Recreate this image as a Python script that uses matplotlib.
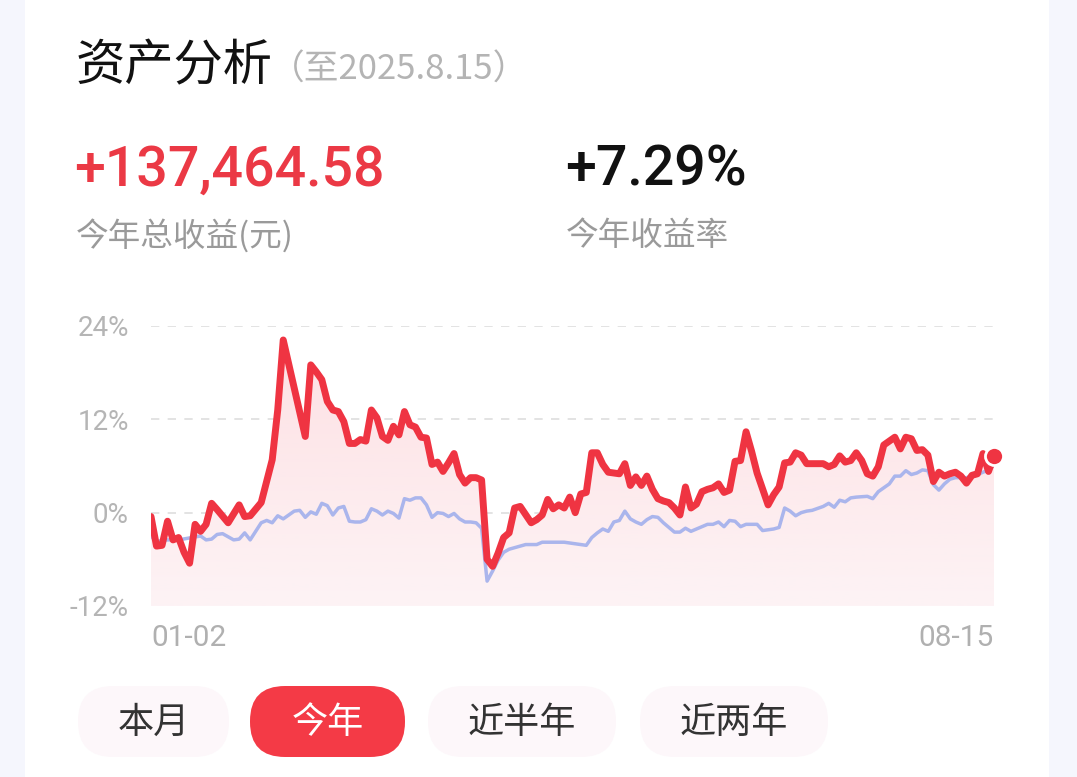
import numpy as np
import matplotlib.pyplot as plt
from matplotlib.patches import FancyBboxPatch
from matplotlib.colors import LinearSegmentedColormap

plt.rcParams['font.family'] = ['Noto Sans CJK SC', 'DejaVu Sans']

# ---- data (day index since 01-02, return in %) ----
red_days = [0, 1, 2, 3, 4, 5, 6, 7, 8, 9, 10, 11, 12, 14, 16, 17, 18, 20, 22, 23, 24,
            28, 29, 30, 31, 32, 33, 34, 35, 36, 37, 38, 39, 40, 41, 42, 43, 44, 45, 46,
            47, 48, 49, 50, 51, 52, 53, 54, 55, 56, 57, 58, 59, 60, 61, 62, 63, 64, 65,
            66, 67, 69, 70, 71, 72, 73, 74, 75, 76, 77, 78, 79, 80, 81, 82, 83, 85, 86,
            87, 88, 89, 90, 91, 92, 93, 94, 95, 96, 97, 98, 99, 100, 101, 102, 103, 104,
            105, 106, 107, 108, 109, 110, 112, 113, 114, 115, 116, 117, 118, 119, 120,
            122, 123, 124, 125, 126, 127, 128, 129, 130, 131, 132, 133, 135, 136, 137,
            138, 139, 140, 141, 142, 143, 144, 145, 146, 147, 148, 149, 150, 151, 152, 153]
red_vals = [-0.5, -4.3, -4.2, -1.1, -3.5, -3.2, -5.1, -6.5, -1.5, -2.4, -1.5, 1.2, 0.4, -1.3,
            1.0, -0.5, -0.4, 1.3, 6.8, 13.2, 22.2,
            9.8, 19.0, 18.1, 17.1, 14.3, 13.2, 13.0, 11.7, 8.9, 8.9, 9.4, 9.2, 13.2, 12.2,
            9.8, 9.3, 11.1, 10.0, 13.0, 11.3, 11.0, 9.7, 9.6, 6.2, 6.5, 5.3, 6.4, 7.6, 4.9,
            3.8, 4.5, 4.5, 4.2, -6.0, -6.9, -5.2, -3.2, -2.6, 0.6, 0.8, -1.3, -0.9, -0.3,
            1.7, 0.5, 1.0, 0.6, 2.0, 0.0, 2.4, 2.6, 7.7, 7.7, 6.2, 5.2, 5.0, 6.3, 3.5, 4.6,
            3.5, 4.7, 3.0, 1.8, 1.5, 1.3, 0.6, -0.3, 3.3, 0.6, 1.1, 2.7, 3.0, 3.2, 3.7, 2.6,
            2.9, 6.6, 6.7, 10.4, 7.9, 5.1, 1.0, 2.3, 3.3, 6.4, 6.5, 7.7, 7.4, 6.3, 6.3,
            6.3, 5.9, 6.2, 7.3, 6.5, 6.7, 7.7, 6.7, 5.0, 4.7, 5.9, 8.7, 9.7, 8.2, 9.7,
            9.5, 8.0, 8.1, 7.4, 4.0, 5.2, 4.7, 5.0, 5.2, 4.7, 3.8, 4.8, 5.0, 7.6, 5.3, 7.29]

blue_days = [0, 1, 3, 5, 9, 10, 11, 12, 13, 15, 16, 17, 18, 20, 21, 22, 23, 24, 26, 27, 28,
             29, 30, 31, 32, 33, 34, 35, 36, 37, 38, 39, 40, 41, 42, 43, 44, 45, 46, 47, 48,
             49, 50, 51, 52, 53, 54, 55, 56, 57, 58, 59, 60, 61, 62, 63, 64, 65, 66, 67, 68,
             70, 71, 73, 75, 77, 79, 80, 81, 82, 83, 84, 85, 86, 87, 88, 89, 90, 91, 92, 93,
             94, 95, 96, 97, 98, 99, 100, 101, 102, 103, 104, 105, 106, 107, 108, 110, 111,
             113, 114, 115, 116, 117, 118, 119, 120, 122, 123, 124, 125, 126, 127, 128, 130,
             131, 132, 134, 135, 136, 137, 138, 139, 140, 141, 142, 143, 144, 145, 146, 148,
             150, 152, 153]
blue_vals = [-3.0, -3.7, -3.5, -3.5, -3.0, -3.5, -3.4, -2.8, -2.7, -3.5, -3.4, -2.6, -3.5,
             -1.3, -1.0, -1.3, -0.4, -0.8, 0.2, 0.3, -0.6, 0.1, -0.2, 1.2, 0.9, -0.3, 0.6,
             0.8, -1.1, -1.2, -1.2, -0.9, 0.5, 0.2, -0.3, 0.2, -0.1, -0.7, 1.8, 1.6, 1.9,
             1.9, 1.0, -0.6, 0.0, -0.1, -0.5, -0.1, -0.8, -1.2, -1.2, -1.3, -2.0, -8.8,
             -7.5, -6.1, -5.1, -4.7, -4.5, -4.3, -4.1, -4.1, -3.8, -3.8, -3.8, -4.0, -4.2,
             -3.2, -2.6, -2.1, -2.4, -1.2, -1.0, 0.2, -0.8, -1.2, -1.5, -0.9, -0.5, -0.6,
             -1.3, -1.9, -2.5, -2.5, -2.0, -2.4, -2.1, -1.8, -1.5, -1.5, -1.2, -1.8, -1.0,
             -1.1, -1.8, -1.5, -1.5, -2.3, -2.1, -1.9, 0.6, 0.2, -0.4, 0.0, 0.2, 0.3, 0.8,
             1.2, 0.7, 1.6, 1.4, 1.9, 2.0, 2.1, 1.8, 2.7, 3.7, 4.7, 4.7, 5.4, 4.9, 5.1, 5.5,
             5.4, 3.6, 2.9, 3.7, 4.3, 4.5, 4.5, 4.9, 5.5, 6.1]

n_days = 153
y_ticks = [-12, 0, 12, 24]
y_labels = ['-12%', '0%', '12%', '24%']
x_labels = ['01-02', '08-15']

title = '资产分析'
subtitle = '（至2025.8.15）'
total_profit = '+137,464.58'
profit_label = '今年总收益(元)'
total_rate = '+7.29%'
rate_label = '今年收益率'
periods = ['本月', '今年', '近半年', '近两年']
active_period = '今年'

RED = '#ef3442'
BLUE = '#aab5ec'

W, H = 1077, 777
fig = plt.figure(figsize=(W / 100, H / 100), dpi=100)
fig.patch.set_facecolor('#f5f6fd')

# background layer in pixel coordinates
bg = fig.add_axes([0, 0, 1, 1])
bg.set_xlim(0, W)
bg.set_ylim(H, 0)
bg.axis('off')
bg.add_patch(FancyBboxPatch((25, -60), 1024, 900, boxstyle='round,pad=0,rounding_size=24',
                            fc='white', ec='none'))

bg.text(76, 66, title, fontsize=35.5, color='#111111', va='center', ha='left')
bg.text(270, 70, subtitle, fontsize=25, color='#b4b4b4', va='center', ha='left')

num_font = ['Roboto', 'DejaVu Sans']
bg.text(74, 170, total_profit, fontsize=40, color='#eb3945', va='center', ha='left',
        family=num_font, weight='medium')
bg.text(565, 170, total_rate, fontsize=40, color='#111111', va='center', ha='left',
        family=num_font, weight='medium')
bg.text(76, 236, profit_label, fontsize=23.5, color='#9a9a9a', va='center', ha='left')
bg.text(566, 236, rate_label, fontsize=23.5, color='#9a9a9a', va='center', ha='left')

# period selector pills
pill_x = [(78, 229), (250, 405), (428, 616), (640, 828)]
for name, (x0, x1) in zip(periods, pill_x):
    on = name == active_period
    bg.add_patch(FancyBboxPatch((x0, 686), x1 - x0, 71, boxstyle='round,pad=0,rounding_size=35',
                                fc='#f43a46' if on else '#fdf7fa', ec='none'))
    bg.text((x0 + x1) / 2, 723, name, fontsize=26, color='white' if on else '#333333',
            ha='center', va='center')

# ---- chart ----
ax = fig.add_axes([151 / W, 1 - 606 / H, 843 / W, 280 / H])
ax.set_xlim(0, n_days)
ax.set_ylim(-12, 24)
ax.patch.set_alpha(0)
for s in ax.spines.values():
    s.set_visible(False)

for y in y_ticks:
    ax.axhline(y, color='#dedede', lw=1.2, ls=(0, (5, 5)), zorder=0)

# gradient fill under the red line
fill = ax.fill_between(red_days, red_vals, -12, color='none', lw=0)
cmap = LinearSegmentedColormap.from_list('pinkfade', ['#fde0e3', '#fdf3f5'])
grad = np.linspace(0, 1, 256).reshape(-1, 1)
im = ax.imshow(grad, cmap=cmap, extent=[0, n_days, -12, 23], aspect='auto',
               origin='upper', zorder=1)
im.set_clip_path(fill.get_paths()[0], transform=ax.transData)

ax.plot(blue_days, blue_vals, color=BLUE, lw=2.5, zorder=3, solid_joinstyle='round')
ax.plot(red_days, red_vals, color=RED, lw=5, zorder=4, solid_joinstyle='round',
        solid_capstyle='round')
ax.plot(red_days[-1], red_vals[-1], 'o', ms=13, mfc=RED, mec='white', mew=2,
        clip_on=False, zorder=5)

ax.set_yticks(y_ticks, y_labels)
ax.set_xticks([0, n_days], x_labels)
ax.tick_params(axis='y', length=0, pad=16, labelsize=20, labelcolor='#b5b5b5')
ax.tick_params(axis='x', length=0, pad=13, labelsize=21.5, labelcolor='#b0b0b0')
for lab in ax.get_yticklabels() + ax.get_xticklabels():
    lab.set_family(num_font)
xl = ax.get_xticklabels()
xl[0].set_ha('left')
xl[1].set_ha('right')

fig.savefig('out.png', dpi=100, facecolor=fig.get_facecolor())
